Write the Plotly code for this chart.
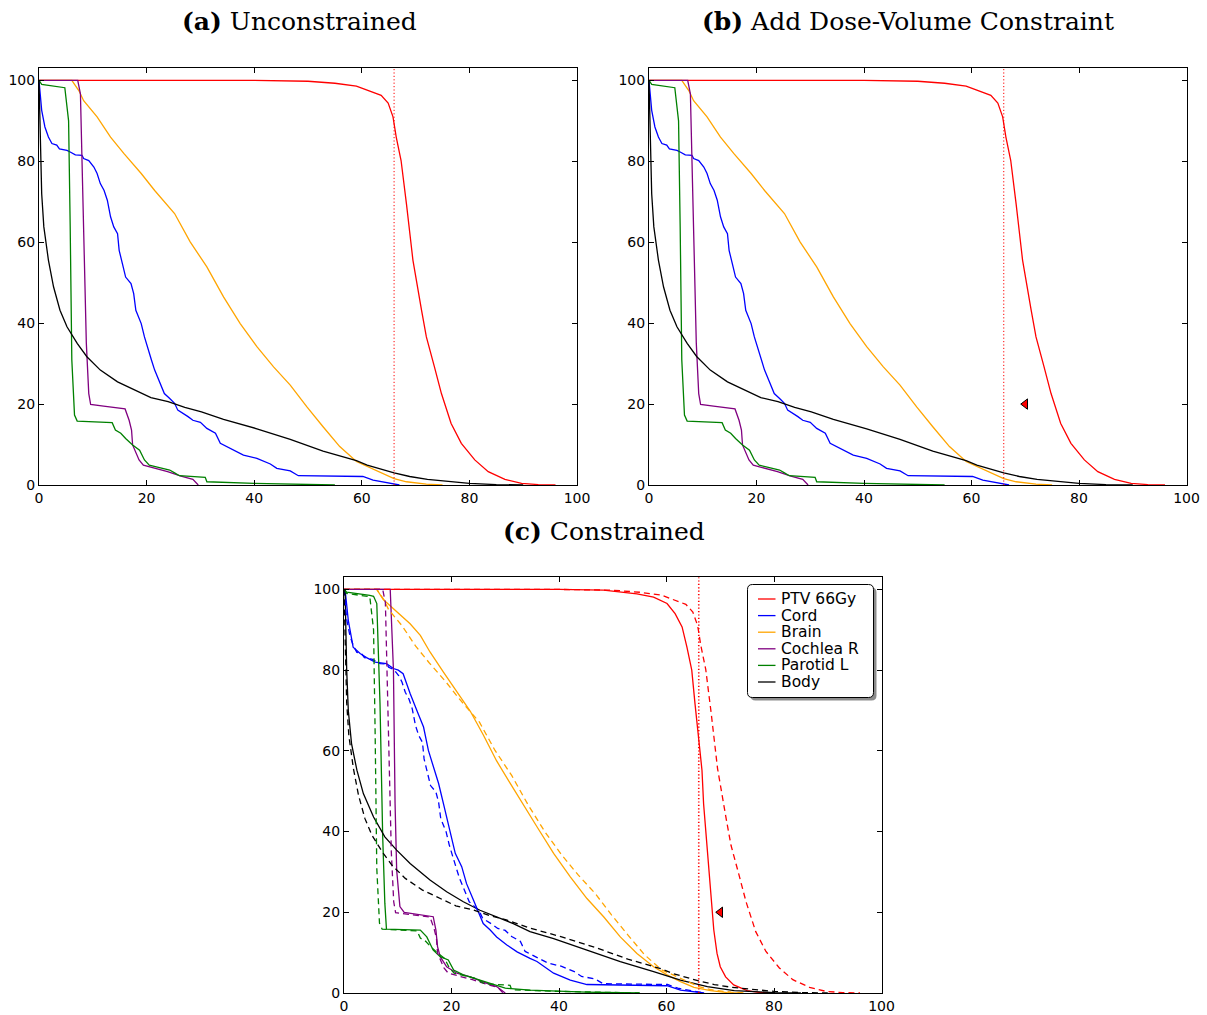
import plotly.graph_objects as go

# ---------------- data (dose in Gy, volume in %) ----------------
structures = ["PTV 66Gy", "Cord", "Brain", "Cochlea R", "Parotid L", "Body"]
colors = ["#ff0000", "#0000ff", "#ffa500", "#800080", "#008000", "#000000"]

x_ticks = [0, 20, 40, 60, 80, 100]
y_ticks = [0, 20, 40, 60, 80, 100]

prescription_dose = 66
constraint_dose = 70
constraint_volume = 20

# Unconstrained plan (panels a, b and dashed lines in c)
ptv_dose_u = [0, 40, 50, 55, 59, 62, 63.6, 64.9, 65.8, 66.4, 67.3, 68.3, 69.5, 71.1, 72.0, 73.5, 74.8, 76.6, 78.5, 81.0, 83.5, 86.6, 89.7, 92.8, 96.0]
ptv_vol_u = [100, 100, 99.8, 99.3, 98.6, 97.2, 96.3, 94.4, 91.0, 86.0, 80.2, 69.5, 55.6, 43.2, 36.6, 29.2, 22.6, 15.2, 10.3, 6.2, 3.3, 1.4, 0.4, 0.1, 0]

cord_dose_u = [0, 0.5, 1.1, 1.75, 2.4, 3.3, 3.8, 5.2, 5.8, 6.75, 8.0, 8.3, 9.25, 10.2, 10.8, 11.4, 12.1, 12.7, 13.3, 13.9, 14.6, 14.9, 15.5, 16.1, 17.1, 17.6, 18.0, 19.0, 19.6, 20.2, 20.9, 21.5, 22.4, 23.3, 24.3, 25.2, 25.8, 26.8, 27.7, 28.6, 30.0, 31.2, 32.8, 33.7, 35.6, 38.0, 40.5, 43.0, 44.2, 46.7, 48.2, 60.2, 62.1, 65.2, 67.0]
cord_vol_u = [100, 92.6, 88.5, 86.0, 84.4, 84.0, 83.1, 82.7, 82.3, 81.6, 81.5, 80.7, 80.2, 78.6, 77.0, 74.5, 72.8, 70.4, 66.3, 63.8, 62.1, 58.0, 54.7, 51.4, 49.8, 47.3, 43.2, 39.9, 36.6, 34.2, 30.9, 28.4, 25.5, 22.6, 21.4, 20.2, 18.5, 17.7, 16.9, 16.0, 15.5, 14.0, 12.8, 10.3, 9.1, 7.4, 6.6, 5.2, 4.1, 3.5, 2.3, 2.1, 1.2, 0.4, 0]

brain_dose_u = [0, 6.1, 7.4, 8.3, 10.8, 13.3, 15.8, 19.0, 21.5, 25.2, 28.1, 31.2, 34.3, 37.4, 40.5, 43.6, 46.7, 49.8, 52.8, 55.9, 59.0, 61.0, 62.1, 64.0, 66.0, 68.3, 72.0, 75.0]
brain_vol_u = [100, 100, 97.5, 95.0, 91.0, 86.0, 81.9, 77.0, 72.8, 67.1, 60.1, 53.9, 46.5, 39.9, 34.2, 29.2, 24.7, 19.3, 14.4, 9.5, 5.8, 4.6, 3.8, 2.6, 1.6, 0.8, 0.2, 0]

cochlea_dose_u = [0, 7.2, 7.7, 8.0, 8.3, 8.8, 9.25, 9.6, 12.0, 16.0, 16.75, 17.2, 17.4, 18.0, 18.6, 19.4, 20.8, 23.9, 26.4, 28.6, 29.6]
cochlea_vol_u = [100, 100, 96.7, 80.0, 55.6, 35.0, 22.6, 19.9, 19.5, 18.8, 16.0, 13.6, 9.9, 7.8, 6.2, 4.9, 4.4, 3.3, 2.2, 1.4, 0]

parotid_dose_u = [0, 0.5, 4.8, 5.5, 5.8, 6.1, 6.6, 7.1, 13.6, 14.2, 15.2, 16.1, 17.4, 18.7, 19.6, 20.5, 22.0, 24.3, 25.2, 26.1, 30.9, 31.2, 40.0, 50.0, 55.0]
parotid_vol_u = [100, 99.0, 98.2, 90.0, 63.8, 30.9, 17.3, 15.8, 15.4, 13.6, 12.8, 11.5, 9.9, 8.6, 6.2, 4.9, 4.4, 3.7, 3.0, 2.3, 1.9, 0.8, 0.4, 0.1, 0]

body_dose_u = [0, 0.2, 0.5, 0.9, 1.75, 2.7, 3.9, 5.2, 7.1, 8.9, 11.4, 14.6, 17.7, 20.8, 24.0, 27.1, 30.2, 34.3, 40.5, 46.7, 52.8, 59.0, 61.0, 66.0, 68.9, 72.2, 80.0, 85.0, 90.0]
body_vol_u = [100, 88.5, 72.0, 63.8, 55.6, 49.0, 43.2, 39.1, 35.0, 31.7, 28.4, 25.5, 23.5, 21.6, 20.6, 19.2, 18.1, 16.2, 13.9, 11.3, 8.4, 6.0, 4.9, 3.0, 2.1, 1.4, 0.4, 0.1, 0]

# Constrained plan (solid lines in panel c)
ptv_dose_c = [0, 40, 48.3, 54.5, 57.6, 60.1, 61.6, 62.9, 63.8, 64.7, 65.3, 65.9, 66.6, 66.9, 67.5, 68.1, 68.4, 68.8, 69.4, 70.0, 71.0, 72.5, 75.0, 77.5, 80.0]
ptv_vol_c = [100, 100, 99.8, 98.9, 98.1, 96.5, 94.0, 90.7, 85.7, 80.0, 71.7, 63.4, 55.2, 46.9, 37.0, 27.1, 22.2, 15.6, 9.8, 6.5, 4.0, 2.0, 0.6, 0.1, 0]

cord_dose_c = [0, 0.2, 0.8, 1.7, 3.0, 4.2, 5.8, 7.9, 9.2, 10.1, 11.0, 12.3, 13.8, 14.8, 15.7, 16.6, 17.6, 18.5, 19.7, 20.7, 21.9, 22.8, 24.1, 25.0, 25.9, 27.2, 28.4, 30.3, 32.2, 34.6, 35.9, 39.0, 42.1, 45.2, 51.4, 60.1, 62.6, 65.7, 67.0]
cord_vol_c = [100, 100, 92.3, 85.7, 84.1, 83.1, 82.0, 81.6, 80.4, 80.0, 79.1, 74.2, 69.2, 65.9, 60.1, 56.0, 51.9, 46.9, 40.3, 34.6, 31.3, 27.1, 23.0, 20.1, 17.2, 15.6, 13.9, 11.9, 10.2, 8.6, 7.8, 4.9, 3.2, 2.1, 2.0, 1.8, 0.7, 0.1, 0]

brain_dose_c = [0, 6.1, 7.3, 9.8, 12.3, 14.2, 16.0, 18.5, 21.0, 23.5, 25.9, 28.4, 30.9, 32.8, 35.9, 39.0, 42.1, 45.2, 48.3, 51.4, 54.5, 57.6, 60.1, 62.6, 65.1, 68.2, 71.3, 74.0]
brain_vol_c = [100, 100, 97.5, 94.5, 91.5, 88.6, 84.5, 79.5, 74.8, 69.8, 64.0, 57.5, 52.0, 47.8, 41.2, 34.6, 28.8, 23.4, 18.9, 13.9, 9.8, 6.5, 4.5, 2.8, 1.4, 0.6, 0.1, 0]

cochlea_dose_c = [0, 8.6, 9.2, 9.5, 9.8, 10.4, 11.2, 16.6, 17.1, 17.4, 17.9, 19.1, 21.0, 23.5, 26.6, 28.4, 30.0]
cochlea_vol_c = [100, 100, 80.0, 47.0, 30.4, 21.4, 20.0, 18.9, 15.6, 11.5, 9.0, 6.5, 4.9, 4.0, 2.4, 1.6, 0]

parotid_dose_c = [0, 0.5, 4.8, 5.5, 6.1, 6.7, 7.2, 7.6, 7.9, 14.2, 15.4, 16.6, 17.9, 19.4, 20.4, 22.2, 25.3, 28.4, 30.0, 34.6, 45.0, 55.0]
parotid_vol_c = [100, 99.3, 98.5, 98.3, 96.5, 71.7, 38.7, 22.2, 15.8, 15.6, 13.9, 10.6, 9.0, 8.2, 5.7, 4.5, 3.2, 2.0, 1.2, 0.7, 0.2, 0]

body_dose_c = [0, 0.2, 0.5, 0.8, 1.4, 2.4, 3.6, 5.5, 7.6, 9.8, 12.3, 16.0, 19.1, 22.2, 25.3, 28.4, 31.5, 34.6, 39.0, 45.2, 51.4, 57.6, 62.6, 67.6, 72.6, 80.0, 85.0]
body_vol_c = [100, 99.8, 80.0, 70.0, 61.8, 55.2, 49.4, 43.6, 38.7, 35.4, 32.1, 28.0, 25.1, 22.6, 20.5, 18.9, 17.2, 15.2, 13.5, 10.6, 7.8, 5.3, 3.2, 1.6, 0.6, 0.1, 0]

unconstrained = [(ptv_dose_u, ptv_vol_u), (cord_dose_u, cord_vol_u), (brain_dose_u, brain_vol_u),
                 (cochlea_dose_u, cochlea_vol_u), (parotid_dose_u, parotid_vol_u), (body_dose_u, body_vol_u)]
constrained = [(ptv_dose_c, ptv_vol_c), (cord_dose_c, cord_vol_c), (brain_dose_c, brain_vol_c),
               (cochlea_dose_c, cochlea_vol_c), (parotid_dose_c, parotid_vol_c), (body_dose_c, body_vol_c)]

# ---------------- layout helpers (pixel -> paper) ----------------
W, H = 1207, 1015
def px(xp):
    return xp / W
def py(yp):
    return 1 - yp / H

fig = go.Figure()

def add_set(data, xa, ya, dash):
    for name, color, (d, v) in zip(structures, colors, data):
        fig.add_trace(go.Scatter(x=d, y=v, mode="lines", name=name, showlegend=False,
                                 line=dict(color=color, width=1.3, dash=dash),
                                 xaxis=xa, yaxis=ya, hoverinfo="skip"))

def add_rx(xa, ya, width):
    fig.add_trace(go.Scatter(x=[prescription_dose, prescription_dose], y=[0, 103], mode="lines",
                             line=dict(color="red", width=width, dash="1.2px,2.2px"),
                             xaxis=xa, yaxis=ya, showlegend=False, hoverinfo="skip"))

def add_marker(xa, ya):
    fig.add_trace(go.Scatter(x=[constraint_dose], y=[constraint_volume], mode="markers",
                             marker=dict(symbol="triangle-left", size=9, color="red",
                                         line=dict(color="black", width=1)),
                             xaxis=xa, yaxis=ya, showlegend=False, hoverinfo="skip"))

# Panel a
add_set(unconstrained, "x", "y", "solid")
add_rx("x", "y", 1)
# Panel b
add_set(unconstrained, "x2", "y2", "solid")
add_rx("x2", "y2", 1)
add_marker("x2", "y2")
# Panel c
add_set(constrained, "x3", "y3", "solid")
add_set(unconstrained, "x3", "y3", "6px,4px")
add_rx("x3", "y3", 1.6)
add_marker("x3", "y3")

tickfont = dict(family="DejaVu Sans", size=14, color="black")
ax_common = dict(ticks="inside", ticklen=5, tickwidth=1, tickcolor="black", showline=True,
                 linecolor="black", linewidth=1, mirror="ticks", showgrid=False, zeroline=False,
                 tickfont=tickfont, automargin=False, fixedrange=True)

top_ab, bot_ab = 68.3, 485
top_c, bot_c = 577.3, 993

fig.update_layout(
    width=W, height=H, margin=dict(l=0, r=0, t=0, b=0),
    paper_bgcolor="white", plot_bgcolor="white", showlegend=False,
    xaxis=dict(domain=[px(39), px(577)], range=[0, 100], tickvals=x_ticks, anchor="y", **ax_common),
    yaxis=dict(domain=[py(bot_ab), py(top_ab)], range=[0, 103], tickvals=y_ticks, anchor="x", **ax_common),
    xaxis2=dict(domain=[px(649), px(1186.5)], range=[0, 100], tickvals=x_ticks, anchor="y2", **ax_common),
    yaxis2=dict(domain=[py(bot_ab), py(top_ab)], range=[0, 103], tickvals=y_ticks, anchor="x2", **ax_common),
    xaxis3=dict(domain=[px(344), px(881.5)], range=[0, 100], tickvals=x_ticks, anchor="y3", **ax_common),
    yaxis3=dict(domain=[py(bot_c), py(top_c)], range=[0, 103], tickvals=y_ticks, anchor="x3", **ax_common),
)

# Titles
title_font = dict(family="DejaVu Serif", size=25, color="black")
titles = [("<b>(a)</b> Unconstrained", 299, 22),
          ("<b>(b)</b> Add Dose-Volume Constraint", 908, 22),
          ("<b>(c)</b> Constrained", 604, 531)]
annotations = []
for text, xc, yc in titles:
    annotations.append(dict(text=text, x=px(xc), y=py(yc), xref="paper", yref="paper",
                            xanchor="center", yanchor="middle", showarrow=False, font=title_font))

# Legend for panel c (matplotlib-style box with shadow)
lx0, lx1, ly0, ly1 = 747.5, 873.5, 584.5, 697.5
def rrect(x0, y0, x1, y1, r=5):
    return (f"M {px(x0 + r)} {py(y0)} L {px(x1 - r)} {py(y0)} Q {px(x1)} {py(y0)} {px(x1)} {py(y0 + r)} "
            f"L {px(x1)} {py(y1 - r)} Q {px(x1)} {py(y1)} {px(x1 - r)} {py(y1)} "
            f"L {px(x0 + r)} {py(y1)} Q {px(x0)} {py(y1)} {px(x0)} {py(y1 - r)} "
            f"L {px(x0)} {py(y0 + r)} Q {px(x0)} {py(y0)} {px(x0 + r)} {py(y0)} Z")

shapes = [
    dict(type="path", path=rrect(lx0 + 3, ly0 + 3, lx1 + 3, ly1 + 3), xref="paper", yref="paper",
         fillcolor="rgba(0,0,0,0.45)", line=dict(width=0)),
    dict(type="path", path=rrect(lx0, ly0, lx1, ly1), xref="paper", yref="paper",
         fillcolor="white", line=dict(color="black", width=1)),
]
entry_y0, entry_step = 599.0, 16.6
for i, (name, color) in enumerate(zip(structures, colors)):
    yy = entry_y0 + i * entry_step
    shapes.append(dict(type="line", x0=px(758), x1=px(775.5), y0=py(yy), y1=py(yy),
                       xref="paper", yref="paper", line=dict(color=color, width=1.3)))
    annotations.append(dict(text=name, x=px(780), y=py(yy), xref="paper", yref="paper",
                            xanchor="left", yanchor="middle", showarrow=False, borderpad=0,
                            font=dict(family="DejaVu Sans", size=15.5, color="black")))

fig.update_layout(shapes=shapes, annotations=annotations)

fig.write_html("out.html", config={"displayModeBar": False},
               post_script="document.body.style.margin='0';document.body.style.overflow='hidden';")
